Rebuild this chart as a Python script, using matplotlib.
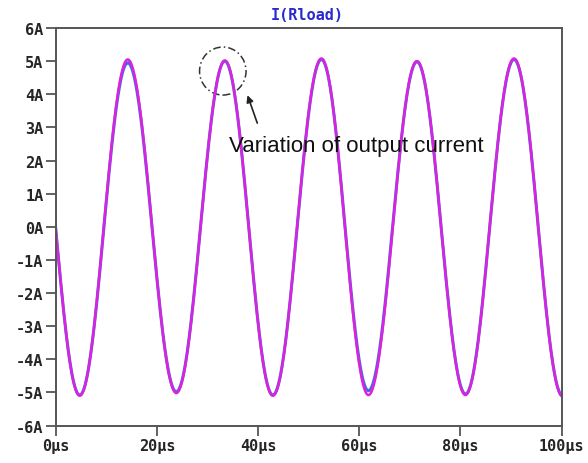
import numpy as np
import matplotlib.pyplot as plt
import matplotlib.patches as mpatches

# extrema of the two traces (time in µs, current in A)
# first knot lies just before t=0 so the trace crosses 0 A at the origin
ext_time = [-4.8, 4.7, 14.2, 23.8, 33.4, 42.9, 52.5, 61.8, 71.4, 81.0, 90.6, 100.2]
blue_amp = [4.95, -5.08, 4.95, -4.98, 5.0, -5.08, 5.05, -4.95, 4.98, -5.05, 5.05, -5.1]
pink_amp = [5.0, -5.1, 5.05, -5.02, 5.02, -5.1, 5.08, -5.08, 5.0, -5.08, 5.08, -5.12]

x_ticks = [0, 20, 40, 60, 80, 100]
x_labels = ["0µs", "20µs", "40µs", "60µs", "80µs", "100µs"]
y_ticks = list(range(-6, 7))
y_labels = [f"{v}A" for v in y_ticks]


def trace(times, amps, n=80):
    """Half-cosine segments between consecutive extrema"""
    xs, ys = [], []
    for (t0, a0), (t1, a1) in zip(zip(times, amps), zip(times[1:], amps[1:])):
        s = np.linspace(0, 1, n)
        xs.append(t0 + (t1 - t0) * s)
        ys.append(a0 + (a1 - a0) * (1 - np.cos(np.pi * s)) / 2)
    return np.concatenate(xs), np.concatenate(ys)


fig = plt.figure(figsize=(5.88, 4.64), dpi=100)
ax = fig.add_axes([0.0952, 0.0808, 0.8598, 0.8567])

bx, by = trace(ext_time, blue_amp)
px, py = trace(ext_time, pink_amp)
ax.plot(bx, by, color="#3a55e0", lw=2.2, alpha=0.9)
ax.plot(px, py, color="#dd22dd", lw=1.8)

ax.set_xlim(0, 100)
ax.set_ylim(-6, 6)
ax.set_xticks(x_ticks)
ax.set_xticklabels(x_labels)
ax.set_yticks(y_ticks)
ax.set_yticklabels(y_labels)

mono = "DejaVu Sans Mono"
for lab in ax.get_xticklabels() + ax.get_yticklabels():
    lab.set_family(mono)
    lab.set_fontsize(11)
    lab.set_weight("bold")
    lab.set_color("#262626")
ax.tick_params(direction="out", length=7, width=1.3, color="#555555", pad=2)

for sp in ax.spines.values():
    sp.set_color("#555555")
    sp.set_linewidth(1.4)

fig.text(0.522, 0.966, "I(Rload)", family=mono, fontsize=11, weight="bold",
         color="#2a2ad0", ha="center", va="center")

# annotation: dash-dot circle around the second peak, arrow and note
circle = mpatches.Ellipse((33.0, 4.7), 9.2, 1.45, fill=False,
                          ls=(0, (5, 2, 1, 2)), lw=1.1, color="#333333")
ax.add_patch(circle)
ax.annotate("", xy=(37.7, 4.05), xytext=(40.0, 3.05),
            arrowprops=dict(arrowstyle="-|>", color="#222222", lw=1.2,
                            mutation_scale=10))
ax.text(34.3, 2.45, "Variation of output current", family="Liberation Sans",
        fontsize=16, color="#111111", ha="left", va="center")

plt.savefig("out.png", dpi=100)
